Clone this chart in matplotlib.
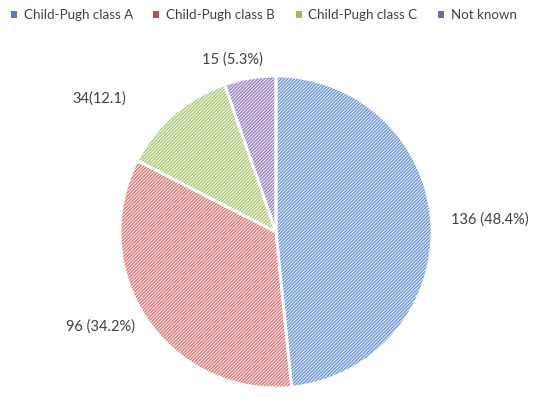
import matplotlib.pyplot as plt
from matplotlib.patches import Patch
import numpy as np

plt.rcParams['font.family'] = ['Lato', 'DejaVu Sans']
plt.rcParams['hatch.linewidth'] = 1.1

categories = ['Child-Pugh class A', 'Child-Pugh class B', 'Child-Pugh class C', 'Not known']
counts = [136, 96, 34, 15]
value_labels = ['136 (48.4%)', '96 (34.2%)', '34(12.1)', '15 (5.3%)']
colors = ['#4F81BD', '#C0504D', '#9BBB59', '#8064A2']
hatch_colors = ['#6F98D6', '#DB7B7B', '#AECB78', '#9C85C0']

W, H = 553, 398
cx, cy, rad = 276, 166, 156

fig = plt.figure(figsize=(W / 100, H / 100), dpi=100)
ax = fig.add_axes([0, 0, 1, 1])

wedges, _ = ax.pie(counts, startangle=90, counterclock=False, radius=1,
                   wedgeprops=dict(facecolor='white', linewidth=0))
for w, hc in zip(wedges, hatch_colors):
    w.set_hatch('//////////')
    w.set_edgecolor(hc)
    w.set_linewidth(0)
# white borders between slices
ax.pie(counts, startangle=90, counterclock=False, radius=1,
       wedgeprops=dict(fill=False, edgecolor='white', linewidth=2))

ax.set_aspect('auto')
ax.set_xlim(-cx / rad, (W - cx) / rad)
ax.set_ylim(-cy / rad, (H - cy) / rad)
ax.axis('off')

# data labels around the pie (distance, angle shift in degrees)
label_place = [(1.37, 0.5), (1.28, -6), (1.42, 12), (1.14, 4.5)]
for w, txt, (dist, shift) in zip(wedges, value_labels, label_place):
    mid = np.deg2rad((w.theta1 + w.theta2) / 2 + shift)
    ax.text(dist * np.cos(mid), dist * np.sin(mid), txt, ha='center', va='center',
            fontsize=10.5, color='#404040')

handles = [Patch(facecolor=c, edgecolor='none') for c in colors]
fig.legend(handles, categories, loc='center', bbox_to_anchor=(0.477, 0.962),
           ncol=4, frameon=False, fontsize=9.6, labelcolor='#404040',
           handlelength=0.45, handleheight=0.45, handletextpad=0.5,
           columnspacing=1.55, borderpad=0, borderaxespad=0)

fig.savefig('out.png', dpi=100)
